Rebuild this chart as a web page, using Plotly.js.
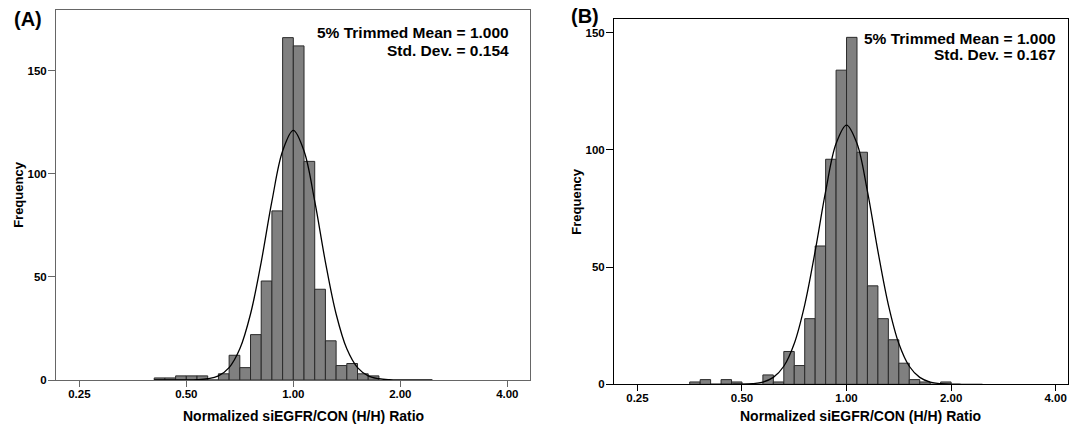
<!DOCTYPE html>
<html>
<head>
<meta charset="utf-8">
<script src="https://cdn.plot.ly/plotly-3.0.1.min.js"></script>
<style>
html,body{margin:0;padding:0;background:#fff;}
#chart{width:1072px;height:429px;}
</style>
</head>
<body>
<div id="chart"></div>
<script>
// ---- Data (x positions in log2 of the ratio; bins are 0.1 log2 units wide) ----
const tickPosLog2 = [-2, -1, 0, 1, 2];
const tickLabels = ["0.25", "0.50", "1.00", "2.00", "4.00"];

// Panel A histogram: bin lower edges (log2) and counts
const binStartA = [-1.3,-1.2,-1.1,-1.0,-0.9,-0.8,-0.7,-0.6,-0.5,-0.4,-0.3,-0.2,-0.1,0.0,0.1,0.2,0.3,0.4,0.5,0.6,0.7];
const countsA   = [1,1,2,2,2,0,3,12,6,22,48,82,166,162,106,44,19,7,8,3,2];

// Panel B histogram
const binStartB = [-1.5,-1.4,-1.3,-1.2,-1.1,-1.0,-0.9,-0.8,-0.7,-0.6,-0.5,-0.4,-0.3,-0.2,-0.1,0.0,0.1,0.2,0.3,0.4,0.5,0.6,0.7,0.8,0.9];
const countsB   = [1,2,0,2,1,0,0,4,1,14,8,28,59,96,134,148,99,42,28,19,9,2,1,0,1];

// Normal curves
const curveX  = [-1.3,-1.2,-1.1,-1.0,-0.9,-0.8,-0.7,-0.6,-0.5,-0.4,-0.3,-0.2,-0.1,0.0,0.1,0.2,0.3,0.4,0.5,0.6,0.7,0.8,0.9,1.0,1.1,1.2,1.3];
const curveA  = [0,0,0.01,0.03,0.14,0.6,2.0,6.0,15.1,32,57.2,86.7,111,121,111,86.7,57.2,32,15.1,6.0,2.0,0.6,0.14,0.03,0.01,0,0];
const curveB  = [0,0,0.01,0.07,0.28,0.97,2.95,7.7,17.4,33.9,56.8,82.3,102.7,110.6,102.7,82.3,56.8,33.9,17.4,7.7,2.95,0.97,0.28,0.07,0.01,0,0];

const statsA = ["5% Trimmed Mean = 1.000", "Std. Dev. = 0.154"];
const statsB = ["5% Trimmed Mean = 1.000", "Std. Dev. = 0.167"];
const panelLabels = ["(A)", "(B)"];
const xTitle = "Normalized siEGFR/CON (H/H) Ratio";
const yTitle = "Frequency";
const binWidth = 0.1;

// ---- Build ----
const W = 1072, H = 429;
const px = v => v / W;
const py = v => 1 - v / H;
const FONT = "Liberation Sans, Arial, Helvetica, sans-serif";

function barTrace(starts, counts, xa, ya) {
  return {
    type: "bar",
    x: starts.map(s => s + binWidth / 2),
    y: counts,
    width: starts.map(() => binWidth),
    xaxis: xa, yaxis: ya,
    marker: {color: "#808080", line: {color: "#2a2a2a", width: 1}},
    hoverinfo: "skip", showlegend: false
  };
}
function curveTrace(ys, xa, ya) {
  return {
    type: "scatter", mode: "lines",
    x: curveX, y: ys, xaxis: xa, yaxis: ya,
    line: {color: "#000", width: 1.3, shape: "spline", smoothing: 1},
    hoverinfo: "skip", showlegend: false
  };
}

const data = [
  barTrace(binStartA, countsA, "x", "y"),
  curveTrace(curveA, "x", "y"),
  barTrace(binStartB, countsB, "x2", "y2"),
  curveTrace(curveB, "x2", "y2")
];

const tickFont = {family: FONT, size: 11.5, color: "#000", weight: "bold"};
function xAxis(domain, range, lineColor, anchor) {
  return {
    domain: domain, range: range, anchor: anchor,
    tickmode: "array", tickvals: tickPosLog2, ticktext: tickLabels,
    ticks: "outside", ticklen: 6, tickwidth: 1, tickcolor: lineColor,
    ticklabelstandoff: -3,
    showline: true, mirror: true, linecolor: lineColor, linewidth: 1,
    showgrid: false, zeroline: false, tickfont: tickFont, fixedrange: true
  };
}
function yAxis(domain, range, lineColor, anchor) {
  return {
    domain: domain, range: range, anchor: anchor,
    tickmode: "array", tickvals: [0, 50, 100, 150],
    ticks: "outside", ticklen: 7, tickwidth: 1, tickcolor: lineColor,
    ticklabelstandoff: -1,
    showline: true, mirror: true, linecolor: lineColor, linewidth: 1,
    showgrid: false, zeroline: false, tickfont: tickFont, fixedrange: true,
    title: {text: yTitle, font: {family: FONT, size: 13, color: "#000", weight: "bold"}, standoff: 0}
  };
}

const statFont = {family: FONT, size: 15.5, color: "#000", weight: "bold"};
function ann(text, x, y, opts) {
  return Object.assign({text: text, xref: "paper", yref: "paper", x: px(x), y: py(y),
    showarrow: false, xanchor: "center", yanchor: "middle", font: statFont}, opts || {});
}

const layout = {
  width: W, height: H,
  margin: {l: 0, r: 0, t: 0, b: 0},
  paper_bgcolor: "#fff", plot_bgcolor: "#fff",
  bargap: 0,
  xaxis: xAxis([px(56), px(530)], [-2.218, 2.212], "#666666", "y"),
  yaxis: yAxis([py(380), py(10)], [0, 179.4], "#666666", "x"),
  xaxis2: xAxis([px(614), px(1068)], [-2.224, 2.118], "#000000", "y2"),
  yaxis2: yAxis([py(384.3), py(19.3)], [0, 155.7], "#000000", "x2"),
  annotations: [
    ann(statsA[0], 511, 33, {xanchor: "right"}),
    ann(statsA[1], 511, 50, {xanchor: "right"}),
    ann(statsB[0], 1058, 38, {xanchor: "right"}),
    ann(statsB[1], 1058, 55, {xanchor: "right"}),
    ann(panelLabels[0], 28, 19, {font: {family: FONT, size: 20, color: "#000", weight: "bold"}}),
    ann(panelLabels[1], 585, 16.5, {font: {family: FONT, size: 20, color: "#000", weight: "bold"}}),
    ann(xTitle, 303, 416, {font: {family: FONT, size: 14, color: "#000", weight: "bold"}}),
    ann(xTitle, 861, 416, {font: {family: FONT, size: 14, color: "#000", weight: "bold"}})
  ]
};

Plotly.newPlot("chart", data, layout, {displayModeBar: false, staticPlot: true});
</script>
</body>
</html>
